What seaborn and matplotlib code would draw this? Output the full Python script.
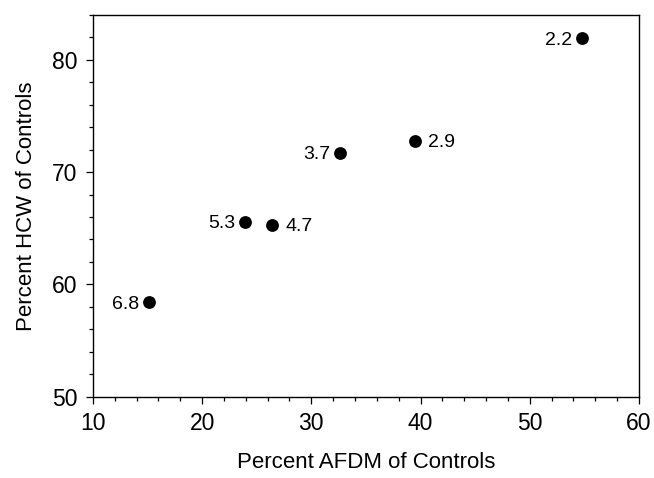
import matplotlib
matplotlib.use("Agg")
import matplotlib.pyplot as plt
from matplotlib.ticker import MultipleLocator
import pandas as pd
import seaborn as sns

# valores
afdm_pct = [15.15, 23.9, 26.4, 32.6, 39.5, 54.75]
hcw_pct = [58.4, 65.6, 65.3, 71.7, 72.8, 81.9]
etiquetas = ["6.8", "5.3", "4.7", "3.7", "2.9", "2.2"]
lado = ["left", "left", "right", "left", "right", "left"]

df = pd.DataFrame({"afdm": afdm_pct, "hcw": hcw_pct, "lab": etiquetas, "lado": lado})

sns.set_style("ticks")
plt.rcParams["font.family"] = ["Liberation Sans", "DejaVu Sans"]
plt.rcParams.update({"text.color": "black", "axes.labelcolor": "black",
                     "xtick.color": "black", "ytick.color": "black"})

fig = plt.figure(figsize=(6.54, 4.78), dpi=100)
ax = fig.add_axes([0.142, 0.170, 0.835, 0.799])

sns.scatterplot(data=df, x="afdm", y="hcw", ax=ax, color="black", s=85,
                edgecolor="black", linewidth=0, zorder=3)

for _, r in df.iterrows():
    if r["lado"] == "left":
        ax.annotate(r["lab"], (r["afdm"], r["hcw"]), xytext=(-7, 0),
                    textcoords="offset points", ha="right", va="center_baseline",
                    fontsize=14)
    else:
        ax.annotate(r["lab"], (r["afdm"], r["hcw"]), xytext=(9.5, 0),
                    textcoords="offset points", ha="left", va="center_baseline",
                    fontsize=14)

ax.set_xlim(10, 60)
ax.set_ylim(50, 84)
ax.xaxis.set_major_locator(MultipleLocator(10))
ax.xaxis.set_minor_locator(MultipleLocator(2))
ax.yaxis.set_major_locator(MultipleLocator(10))
ax.yaxis.set_minor_locator(MultipleLocator(2))

for s in ax.spines.values():
    s.set_visible(True)
    s.set_color("black")
    s.set_linewidth(1.0)

ax.tick_params(which="both", direction="out", top=False, right=False,
               color="black", width=0.9)
ax.tick_params(which="major", length=5, labelsize=16.5, pad=6)
ax.tick_params(which="minor", length=3)

ax.set_xlabel("Percent AFDM of Controls", fontsize=16, labelpad=12)
ax.set_ylabel("Percent HCW of Controls", fontsize=16, labelpad=11)

fig.savefig("out.png", dpi=100)
